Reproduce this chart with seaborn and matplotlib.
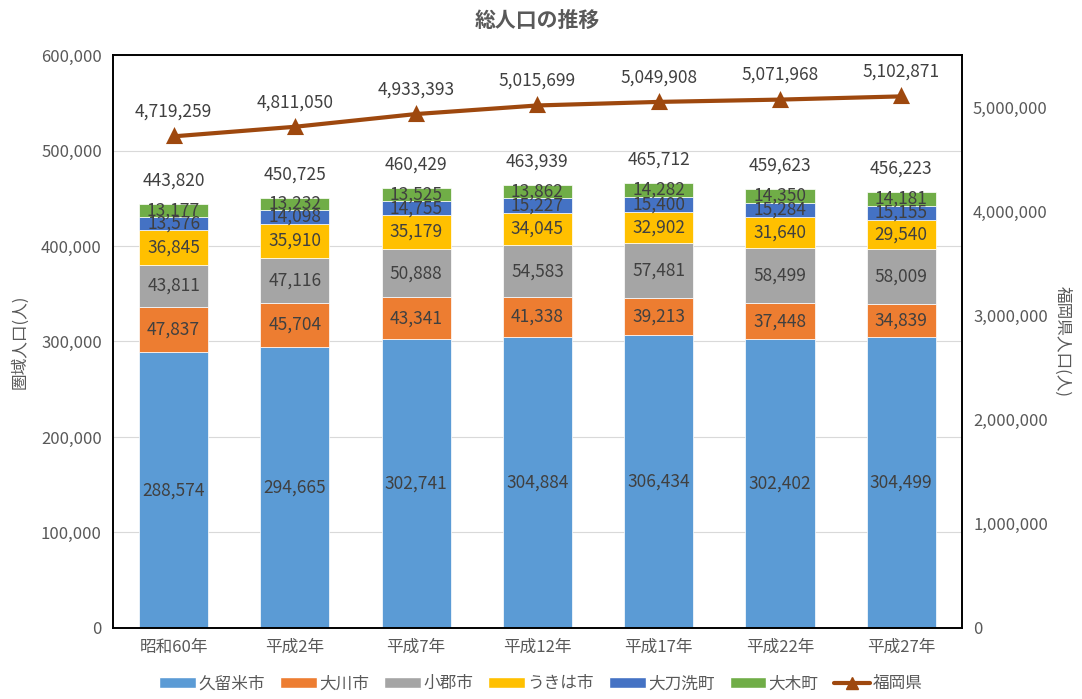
import matplotlib
matplotlib.use("Agg")
import matplotlib.pyplot as plt
import numpy as np
import pandas as pd
import seaborn as sns
from matplotlib.lines import Line2D
from matplotlib.patches import Patch

sns.set_style("white")
plt.rcParams['font.family'] = ['Noto Sans CJK JP', 'DejaVu Sans']

# データ
periods = ["昭和60年", "平成2年", "平成7年", "平成12年", "平成17年", "平成22年", "平成27年"]
kurume = [288574, 294665, 302741, 304884, 306434, 302402, 304499]
okawa = [47837, 45704, 43341, 41338, 39213, 37448, 34839]
ogori = [43811, 47116, 50888, 54583, 57481, 58499, 58009]
ukiha = [36845, 35910, 35179, 34045, 32902, 31640, 29540]
tachiarai = [13576, 14098, 14755, 15227, 15400, 15284, 15155]
oki = [13177, 13232, 13525, 13862, 14282, 14350, 14181]
totals = [443820, 450725, 460429, 463939, 465712, 459623, 456223]
fukuoka = [4719259, 4811050, 4933393, 5015699, 5049908, 5071968, 5102871]

series_names = ["久留米市", "大川市", "小郡市", "うきは市", "大刀洗町", "大木町"]
series_vals = [kurume, okawa, ogori, ukiha, tachiarai, oki]
colors = ["#5B9BD5", "#ED7D31", "#A5A5A5", "#FFC000", "#4472C4", "#70AD47"]
line_color = "#9E480E"
text_color = "#595959"
label_color = "#404040"
fs = 12.5

fig, ax = plt.subplots(figsize=(10.82, 6.99), dpi=100)
fig.subplots_adjust(left=0.1044, right=0.889, bottom=0.1016, top=0.9213)

# 積み上げ棒グラフ
bottom = np.zeros(len(periods))
for name, vals, c in zip(series_names, series_vals, colors):
    df = pd.DataFrame({"period": periods, "value": vals})
    sns.barplot(data=df, x="period", y="value", ax=ax, color=c, bottom=bottom,
                width=0.57, errorbar=None, saturation=1, linewidth=0.5, edgecolor="white")
    for i, v in enumerate(vals):
        ax.text(i, bottom[i] + v / 2, f"{v:,}", ha="center", va="center",
                fontsize=fs, color=label_color)
    bottom += np.array(vals)

for i, t in enumerate(totals):
    ax.text(i, t + 15000, f"{t:,}", ha="center", va="bottom", fontsize=fs, color=label_color)

ax.set_ylim(0, 600000)
ax.set_yticks(np.arange(0, 600001, 100000))
ax.yaxis.set_major_formatter(matplotlib.ticker.FuncFormatter(lambda v, p: f"{int(v):,}"))
ax.grid(axis="y", color="#D9D9D9", linewidth=0.8)
ax.set_axisbelow(True)
ax.set_xlabel("")
ax.set_ylabel("圏域人口(人)", color=text_color, fontsize=12, labelpad=9)
ax.tick_params(axis="both", length=0, labelsize=12, labelcolor=text_color, pad=8)

# 福岡県の折れ線
ax2 = ax.twinx()
sns.pointplot(x=periods, y=fukuoka, ax=ax2, color=line_color, markers="^",
              errorbar=None, linewidth=3, markersize=8)
for i, v in enumerate(fukuoka):
    ax2.text(i, v + 150000, f"{v:,}", ha="center", va="bottom", fontsize=fs, color=label_color)
ax2.set_ylim(0, 5500000)
ax2.set_yticks(np.arange(0, 5000001, 1000000))
ax2.yaxis.set_major_formatter(matplotlib.ticker.FuncFormatter(lambda v, p: f"{int(v):,}"))
ax2.set_ylabel("福岡県人口(人)", color=text_color, fontsize=12, rotation=270, labelpad=17)
ax2.tick_params(axis="both", length=0, labelsize=12, labelcolor=text_color, pad=8)
ax.set_xlim(-0.5, len(periods) - 0.5)

for a in (ax, ax2):
    for s in a.spines.values():
        s.set_color("#000000")
        s.set_linewidth(1.2)

ax.set_title("総人口の推移", fontsize=15, fontweight="bold", color=text_color, pad=20)

handles = [Patch(facecolor=c, label=n) for n, c in zip(series_names, colors)]
handles.append(Line2D([0], [0], color=line_color, marker="^", linewidth=3, markersize=8, label="福岡県"))
fig.legend(handles=handles, loc="lower center", ncol=7, frameon=False, fontsize=12,
           bbox_to_anchor=(0.5, -0.012), handlelength=2.2, handleheight=0.7,
           columnspacing=0.9, handletextpad=0.15, labelcolor=text_color)

fig.savefig("out.png", dpi=100)
